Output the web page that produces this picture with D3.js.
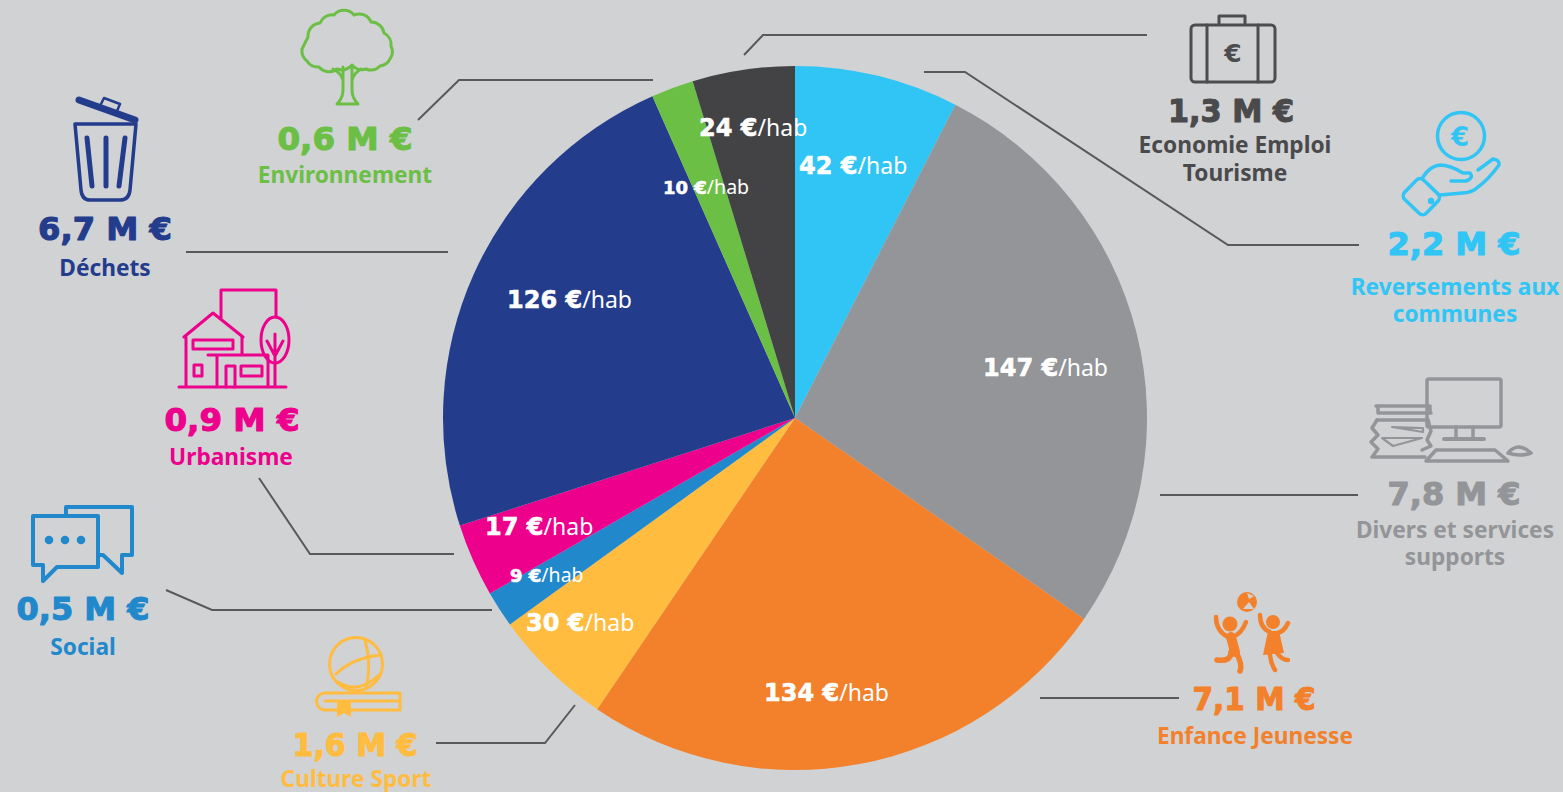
<!DOCTYPE html>
<html lang="fr"><head><meta charset="utf-8">
<script src="https://cdnjs.cloudflare.com/ajax/libs/d3/7.8.5/d3.min.js"></script>
<style>
html,body{margin:0;padding:0;background:#d1d2d4;overflow:hidden}
svg{display:block}
.amt{font-family:"DejaVu Sans";font-weight:700;text-anchor:middle;stroke-width:1.1px;stroke-linejoin:round}
.cat{font-family:"Noto Sans";font-weight:700;font-size:22.7px;text-anchor:middle}
.val{font-family:"DejaVu Sans";font-weight:700;fill:#fff;stroke:#fff;stroke-width:.6px}
.hab{font-family:"Noto Sans";font-weight:400;fill:#fff}
</style></head><body>
<script>
// ---- data ----
const categories = ["Reversements aux communes","Divers et services supports","Enfance Jeunesse","Culture Sport","Social","Urbanisme","Déchets","Environnement","Economie Emploi Tourisme"];
const perInhabitant = [42,147,134,30,9,17,126,10,24];
const sliceDegrees = [27.1,97.7,89.4,19.9,6,12.1,83.9,7,16.9];
const amountsLabels = ["2,2 M €","7,8 M €","7,1 M €","1,6 M €","0,5 M €","0,9 M €","6,7 M €","0,6 M €","1,3 M €"];
const colors = ["#30c5f5","#939598","#f3802a","#ffbc3f","#2188cc","#ec008c","#243c8c","#6cbf45","#434345"];

// ---- layout ----
const W=1563,H=792,cx=795,cy=418,R=352;
const amountPos=[[1454,255,133],[1454,505,133],[1254,710,123],[355,756,125],[83,620,133],[232,431,135],[105,240,134],[345,150,135],[1231,122,126]];
const catPos=[[[ "Reversements aux",1455,295],["communes",1455,322]],[["Divers et services",1455,538],["supports",1455,565]],[["Enfance Jeunesse",1255,744]],[["Culture Sport",356,787]],[["Social",83,655]],[["Urbanisme",231,465]],[["Déchets",105,276]],[["Environnement",345,183]],[["Economie Emploi",1235,153],["Tourisme",1235,181]]];
const valPos=[[799,174,24,23],[983,376,24,23],[764,701,24,23],[526,631,24,23],[510,582,18,19.5],[485,535,24,23],[507,308,24,23],[663,194,18,19.5],[699,136,24,23]];
const leaders=[[[924,72],[965,72],[1228,245],[1359,245]],[[1160,495],[1358,495]],[[1040,698],[1179,698]],[[575,705],[545,743],[436,743]],[[166,590],[212,610],[492,610]],[[259,478],[310,554],[454,554]],[[186,252],[448,252]],[[418,120],[459,80],[653,80]],[[744,55],[763,35],[1147,35]]];

const svg=d3.select("body").append("svg").attr("width",W).attr("height",H).attr("viewBox",`0 0 ${W} ${H}`);
svg.append("rect").attr("width",W).attr("height",H).attr("fill","#d1d2d4");

const pie=d3.pie().sort(null).value(d=>d);
const arc=d3.arc().innerRadius(0).outerRadius(R);
svg.append("g").attr("transform",`translate(${cx},${cy})`).selectAll("path").data(pie(sliceDegrees)).join("path")
  .attr("d",arc).attr("fill",(d,i)=>colors[i]);

const line=d3.line();
svg.append("g").selectAll("path").data(leaders).join("path").attr("d",d=>line(d)).attr("fill","none").attr("stroke","#58595b").attr("stroke-width",2);

// in-pie labels
const vg=svg.append("g");
perInhabitant.forEach((v,i)=>{
  const p=valPos[i];
  const t=vg.append("text").attr("x",p[0]).attr("y",p[1]);
  t.append("tspan").attr("class","val").attr("font-size",p[2]).text(v+" €");
  t.append("tspan").attr("class","hab").attr("font-size",p[3]).text("/hab");
});
// amounts and names
amountsLabels.forEach((a,i)=>{
  const p=amountPos[i];
  const col=i==1?"#939598":i==8?"#4a4a4c":colors[i];
  svg.append("text").attr("class","amt").attr("x",p[0]).attr("y",p[1]).attr("font-size",32).attr("fill",col).attr("stroke",col)
    .attr("textLength",p[2]).attr("lengthAdjust","spacingAndGlyphs").text(a);
  catPos[i].forEach(c=>svg.append("text").attr("class","cat").attr("x",c[1]).attr("y",c[2]).attr("fill",i==8?"#4a4a4c":colors[i]).text(c[0]));
});

// ---- icons ----
function icon(color,sw){return svg.append("g").attr("fill","none").attr("stroke",color).attr("stroke-width",sw).attr("stroke-linejoin","round").attr("stroke-linecap","round");}
function bumps(pts,r){let s=`M${pts[0]}`;pts.slice(1).forEach(p=>s+=` A${r} ${r} 0 0 1 ${p}`);return s+"Z";}
// tree
let g=icon("#6cbf45",3);
g.append("path").attr("d",bumps([[308,37],[320,23],[334,15],[354,15],[371,22],[384,33],[391,46],[390,59],[380,66],[366,69],[352,65],[337,69],[319,67],[307,61],[302,49]],13));
g.append("path").attr("d","M343 67V90Q343 98 337 104H358Q352 98 352 90V67M352 80Q354 73 361 69M343 80Q341 73 333 69");
// trash
g=icon("#243c8c",3.5);
g.append("path").attr("d","M75 124H136L130 190Q129 200 120 200H90Q82 200 81 190Z");
g.append("path").attr("d","M87 138L92 186M106 138V186M125 138L119 186").attr("stroke-width",5);
g.append("path").attr("d","M79 100L135 120").attr("stroke-width",7);
g.append("path").attr("d","M100 106L104 98L120 104L117 111").attr("stroke-width",2.5);
// house
g=icon("#ec008c",3);
g.append("path").attr("d","M179 387H286M221 318V290H276V317M184 337L213 313L243 337M186 337V387M242 337V354M208 355H268M217 355V387M268 355V387M275 345V387M267 341L275 356L283 341M275 334V350");
g.append("rect").attr("x",193).attr("y",340).attr("width",40).attr("height",9);
g.append("rect").attr("x",194).attr("y",365).attr("width",8).attr("height",11);
g.append("path").attr("d","M226 387V366H235V387");
g.append("rect").attr("x",241).attr("y",366).attr("width",21).attr("height",10);
g.append("ellipse").attr("cx",275).attr("cy",340).attr("rx",14).attr("ry",23);
// speech bubbles
g=icon("#2188cc",4);
g.append("path").attr("d","M33 516H98V567H57L43 581V565H33Z");
g.append("path").attr("d","M66 516V507H132V555H122V573L103 555H98");
[49,65,81].forEach(x=>svg.append("circle").attr("cx",x).attr("cy",540).attr("r",4.3).attr("fill","#2188cc"));
// ball and book
g=icon("#ffbc3f",3);
g.append("circle").attr("cx",356).attr("cy",664).attr("r",26.5);
g.append("path").attr("d","M365 640Q372 665 366 688M336 674Q352 658 381 655M338 682Q358 695 379 675");
g.append("path").attr("d","M400 693H325A8.5 8.5 0 0 0 325 710H400M400 693V710M325 701H398");
svg.append("path").attr("d","M337 701H351V717L344 713L337 717Z").attr("fill","#ffbc3f");
// suitcase
g=icon("#4d4d4f",3);
g.append("rect").attr("x",1191).attr("y",25).attr("width",84).attr("height",57).attr("rx",4);
g.append("path").attr("d","M1219 24V16H1245V24M1207 25V82M1258 25V82");
svg.append("text").attr("x",1233).attr("y",62).attr("text-anchor","middle").attr("font-family","DejaVu Sans").attr("font-weight",700).attr("font-size",25).attr("fill","#4d4d4f").text("€");
// hand with coin
g=icon("#30c5f5",3.5);
g.append("circle").attr("cx",1461).attr("cy",136).attr("r",23.5);
g.append("rect").attr("x",1406).attr("y",183).attr("width",30).attr("height",27).attr("rx",5).attr("transform","rotate(44 1421 197)");
g.append("path").attr("d","M1423 177Q1430 166 1440 165Q1450 165 1463 173H1470Q1474 178 1466 181H1451M1478 170L1493 159Q1500 160 1499 165Q1488 180 1478 187Q1472 193 1462 193L1440 195");
svg.append("circle").attr("cx",1431).attr("cy",201).attr("r",3.2).attr("fill","#30c5f5");
svg.append("text").attr("x",1460).attr("y",146).attr("text-anchor","middle").attr("font-family","DejaVu Sans").attr("font-weight",700).attr("font-size",26).attr("fill","#30c5f5").text("€");
// computer and papers
g=icon("#939598",3.5);
g.append("rect").attr("x",1427).attr("y",379).attr("width",74).attr("height",48).attr("rx",2);
g.append("path").attr("d","M1456 427V438M1473 427V438");
g.append("path").attr("d","M1444 439H1484").attr("stroke-width",4);
g.append("path").attr("d","M1426 461L1436 450H1495L1508 461Z");
g.append("path").attr("d","M1508 453Q1518 441 1531 453Q1520 457 1508 453Z");
g.append("path").attr("d","M1376 406H1430M1378 413H1431M1377 420H1428M1378 406V413M1430 406V413");
g.append("path").attr("d","M1377 420L1372 428L1378 435L1371 442L1378 449L1372 457H1425M1428 420L1431 431L1427 440L1431 446L1422 450");
g.append("path").attr("d","M1392 427L1423 428V432ZM1382 438H1422L1393 446Z").attr("stroke-width",2.2);
// kids
g=icon("#f3802a",4.5);
svg.append("circle").attr("cx",1247).attr("cy",602).attr("r",10).attr("fill","#f3802a");
svg.append("path").attr("d","M1243 609L1249 602L1254 609Z").attr("fill","#d1d2d4");
svg.append("path").attr("d","M1247 593L1249 599L1254 596Z").attr("fill","#d1d2d4");
svg.append("circle").attr("cx",1230).attr("cy",624).attr("r",7.5).attr("fill","#f3802a");
svg.append("circle").attr("cx",1273).attr("cy",622).attr("r",7).attr("fill","#f3802a");
g.append("path").attr("d","M1216 617Q1216 631 1228 637M1246 622Q1242 633 1233 637");
g.append("path").attr("d","M1231 637L1235 652").attr("stroke-width",10);
g.append("path").attr("d","M1236 652Q1243 665 1240 671M1231 652Q1231 662 1217 660").attr("stroke-width",5.5);
g.append("path").attr("d","M1260 615Q1260 628 1270 632M1288 623Q1284 632 1277 633");
svg.append("path").attr("d","M1268 631H1279L1284 653L1263 655Z").attr("fill","#f3802a");
g.append("path").attr("d","M1270 655Q1271 664 1275 670M1277 653Q1282 660 1288 660");
</script></body></html>
